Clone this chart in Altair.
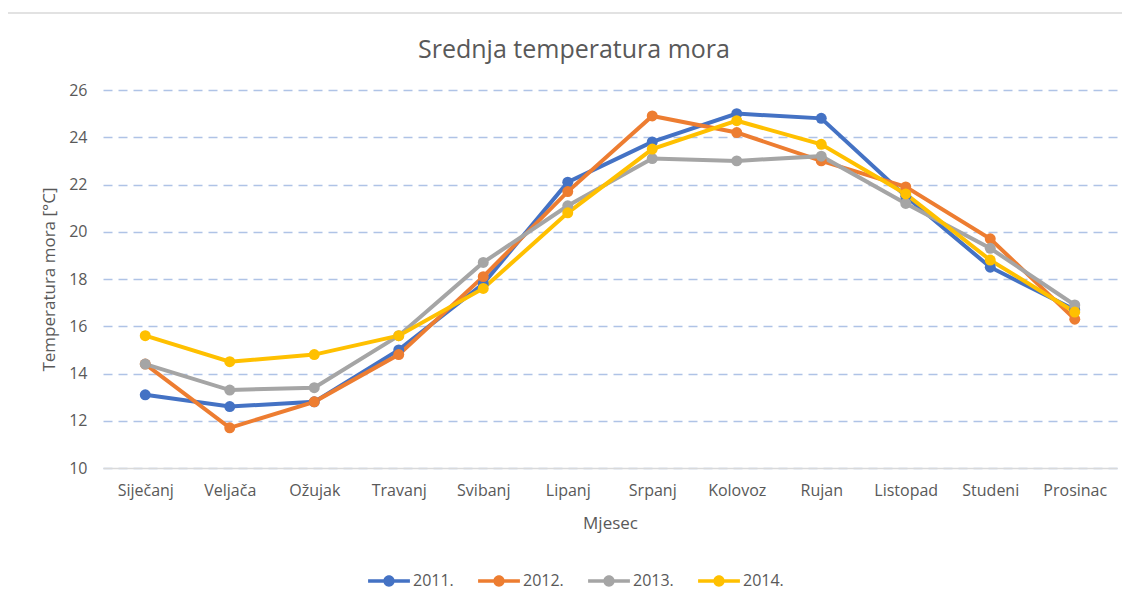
import altair as alt
import pandas as pd

months = ["Siječanj", "Veljača", "Ožujak", "Travanj", "Svibanj", "Lipanj",
          "Srpanj", "Kolovoz", "Rujan", "Listopad", "Studeni", "Prosinac"]
years = ["2011.", "2012.", "2013.", "2014."]
t2011 = [13.1, 12.6, 12.8, 15.0, 17.8, 22.1, 23.8, 25.0, 24.8, 21.5, 18.5, 16.7]
t2012 = [14.4, 11.7, 12.8, 14.8, 18.1, 21.7, 24.9, 24.2, 23.0, 21.9, 19.7, 16.3]
t2013 = [14.4, 13.3, 13.4, 15.6, 18.7, 21.1, 23.1, 23.0, 23.2, 21.2, 19.3, 16.9]
t2014 = [15.6, 14.5, 14.8, 15.6, 17.6, 20.8, 23.5, 24.7, 23.7, 21.6, 18.8, 16.6]
colors = ["#4472C4", "#ED7D31", "#A5A5A5", "#FFC000"]
y_ticks = [10, 12, 14, 16, 18, 20, 22, 24, 26]

rows = []
for y, vals in zip(years, [t2011, t2012, t2013, t2014]):
    for m, v in zip(months, vals):
        rows.append({"Mjesec": m, "Godina": y, "Temp": v})
df = pd.DataFrame(rows)

FONT = "Open Sans"
TXT = "#595959"

sym = ("M-1,-0.085 L1,-0.085 L1,0.085 L-1,0.085 Z "
       "M-0.27,0 A0.27,0.27 0 1,1 0.27,0 A0.27,0.27 0 1,1 -0.27,0 Z")

x = alt.X("Mjesec:N", sort=months,
          scale=alt.Scale(type="point", padding=0.5),
          axis=alt.Axis(title="Mjesec", labelAngle=0, ticks=False,
                        domainColor="#D9D9D9", domainWidth=1.5,
                        labelFontSize=16, labelColor=TXT, labelPadding=14,
                        titleFontSize=17, titleColor=TXT, titleFontWeight="normal",
                        titlePadding=17, grid=False))
y = alt.Y("Temp:Q",
          scale=alt.Scale(domain=[10, 26], nice=False, zero=False),
          axis=alt.Axis(title="Temperatura mora  [°C]", values=y_ticks,
                        ticks=False, domain=False, labelOverlap=False,
                        labelFontSize=16, labelColor=TXT, labelPadding=16,
                        titleFontSize=17, titleColor=TXT, titleFontWeight="normal",
                        titlePadding=10,
                        grid=True, gridColor="#AFC3E6", gridDash=[9, 6], gridWidth=1.5))
color = alt.Color("Godina:N", sort=years,
                  scale=alt.Scale(domain=years, range=colors),
                  legend=alt.Legend(title=None, orient="none", direction="horizontal",
                                    legendX=265, legendY=470,
                                    symbolType=sym, symbolSize=1750, symbolStrokeWidth=0,
                                    symbolOpacity=1,
                                    labelFontSize=16, labelColor=TXT, columnPadding=24,
                                    labelOffset=3))

base = alt.Chart(df)
lines = base.mark_line(strokeWidth=4, strokeCap="round").encode(
    x=x, y=y, color=color)
points = base.mark_circle(size=120, opacity=1).encode(
    x=x, y=y, color=alt.Color("Godina:N", sort=years,
                              scale=alt.Scale(domain=years, range=colors), legend=None))

frame_top = alt.Chart(pd.DataFrame({"a": [0]})).mark_rule(color="#D9D9D9", strokeWidth=1.5).encode(
    x=alt.value(-96), x2=alt.value(1030), y=alt.value(-77))
frame_left = alt.Chart(pd.DataFrame({"a": [0]})).mark_rule(color="#D9D9D9", strokeWidth=1.5).encode(
    x=alt.value(-96), y=alt.value(-77), y2=alt.value(520))

chart = alt.layer(frame_top, frame_left, lines, points).properties(
    width=1014, height=378,
    title=alt.TitleParams("Srednja temperatura mora", fontSize=25, color=TXT,
                          font=FONT, fontWeight="normal", offset=-51, dx=-36),
    autosize=alt.AutoSizeParams(type="none"),
    padding={"left": 95, "top": 82, "right": 5, "bottom": 135},
).configure(font=FONT).configure_view(stroke=None)

chart.save("out.html", embed_options={"renderer": "svg", "actions": False})
